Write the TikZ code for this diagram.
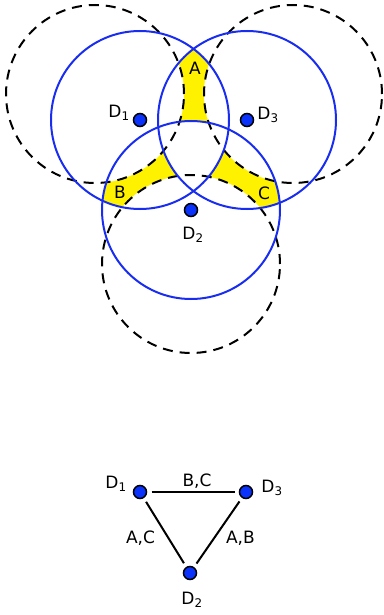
\documentclass[tikz,border=0pt]{standalone}
\usepackage{fontspec}
\setmainfont{DejaVu Sans}
\definecolor{sensorblue}{RGB}{25,45,240}
\definecolor{dotblue}{RGB}{10,50,250}
\tikzset{
  dot/.style={circle, fill=dotblue, draw=black, line width=1.5pt, minimum size=13pt, inner sep=0pt, outer sep=5pt},
  coverage/.style={sensorblue, line width=2pt},
  shifted/.style={black, line width=2pt, dash pattern=on 10pt off 7pt},
  edge/.style={black, line width=2pt},
  lbl/.style={font=\fontsize{17}{20}\selectfont, inner sep=1pt},
}
\def\rad{89pt}
\begin{document}
\begin{tikzpicture}[x=1pt, y=-1pt]
	\useasboundingbox (0,0) rectangle (383,615);
	
	% Sensors and shifted centres
	\coordinate (c1) at (140,120);
	\coordinate (c2) at (191,210);
	\coordinate (c3) at (247,120);
	\coordinate (e1) at (95,94);
	\coordinate (e2) at (191,264);
	\coordinate (e3) at (293,94);
	
	% Yellow regions
	\begin{scope}
		\clip (c1) circle[radius=\rad];
		\clip (c3) circle[radius=\rad];
		\fill[yellow] (c1) circle[radius=\rad];
		\fill[white] (c2) circle[radius=\rad] (e1) circle[radius=\rad] (e3) circle[radius=\rad];
	\end{scope}
	\begin{scope}
		\clip (c1) circle[radius=\rad];
		\clip (c2) circle[radius=\rad];
		\fill[yellow] (c1) circle[radius=\rad];
		\fill[white] (c3) circle[radius=\rad] (e1) circle[radius=\rad] (e2) circle[radius=\rad];
	\end{scope}
	\begin{scope}
		\clip (c2) circle[radius=\rad];
		\clip (c3) circle[radius=\rad];
		\fill[yellow] (c2) circle[radius=\rad];
		\fill[white] (c1) circle[radius=\rad] (e2) circle[radius=\rad] (e3) circle[radius=\rad];
	\end{scope}
	
	% Dashed circles
	\foreach \c in {e1, e2, e3} {
		\draw[shifted] (\c) circle[radius=\rad];
	}
	
	% Blue circles
	\foreach \c in {c1, c2, c3} {
		\draw[coverage] (\c) circle[radius=\rad];
	}
	
	% Sensors
	\node[dot] (d1) at (c1) {};
	\node[dot] (d2) at (c2) {};
	\node[dot] (d3) at (c3) {};
	\node[lbl] (n1) at (119,113) {D\textsubscript{1}};
	\node[lbl] (n3) at (268,115) {D\textsubscript{3}};
	\node[lbl] (n2) at (193,235) {D\textsubscript{2}};
	
	% Region labels
	\node[lbl] (ra) at (195,68) {A};
	\node[lbl] (rb) at (120,192) {B};
	\node[lbl] (rc) at (264,193) {C};
	
	% Graph
	\node[dot] (g1) at (140,492) {};
	\node[dot] (g3) at (246,492) {};
	\node[dot] (g2) at (190,573) {};
	\node[lbl] (m1) at (116,484) {D\textsubscript{1}};
	\node[lbl] (m3) at (272,488) {D\textsubscript{3}};
	\node[lbl] (m2) at (192,600) {D\textsubscript{2}};
	\draw[edge] (g1) -- node[lbl, above=2pt, xshift=4pt] {B,C} (g3);
	\draw[edge] (g1) -- node[lbl, left=8pt, yshift=-6pt] {A,C} (g2);
	\draw[edge] (g3) -- node[lbl, right=6pt, yshift=-6pt] {A,B} (g2);
	
\end{tikzpicture}
\end{document}
